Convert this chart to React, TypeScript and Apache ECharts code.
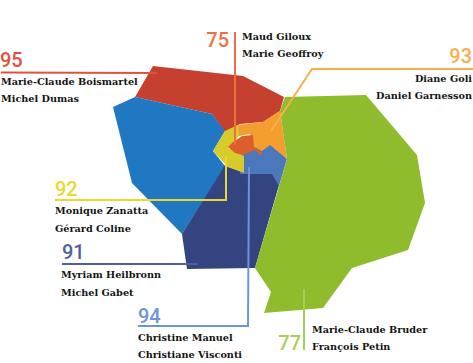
import React, { useEffect, useRef } from "react";
import * as echarts from "echarts";

const W = 473;
const H = 363;

// Region outlines in picture units
const redShape = [[153,66],[243,76],[284,97],[280,111],[263,122],[240,124],[225,132],[212,114],[135,97]];
const blueShape = [[135,97],[212,114],[225,131],[213,151],[225,166],[182,234],[132,183],[113,107]];
const navyShape = [[225,165],[228,167],[244,172],[272,173],[279,185],[255,268],[187,269],[182,234]];
const midBlueShape = [[240,153],[262,144],[270,143],[287,159],[279,186],[272,174],[240,174]];
const yellowShape = [[213,151],[225,131],[238,125],[240,135],[228,148],[244,156],[244,173],[228,167]];
const orangeShape = [[238,125],[263,122],[280,111],[287,159],[270,145],[262,151],[252,146],[250,134],[239,136]];
const darkOrangeShape = [[228,147],[233,142],[242,136],[253,135],[254,147],[262,152],[261,156],[255,150],[243,155],[235,153]];
const greenShape = [[285,97],[366,95],[417,155],[425,203],[408,250],[352,268],[323,308],[264,313],[271,292],[255,268],[287,159],[280,111]];

const shapes = [redShape, blueShape, navyShape, midBlueShape, yellowShape, orangeShape, darkOrangeShape, greenShape];
const shapeColors = ["#c5402f", "#1f78c1", "#344480", "#4b77bd", "#d7cb2b", "#f49e2f", "#dc5f2b", "#8fbc2c"];

// Leader lines
const leaderRed = [[1,72.5],[157,73]];
const leaderDarkOrange = [[235,32],[235,145]];
const leaderOrange = [[473,69],[312,69],[271,131]];
const leaderYellow = [[55,200],[226,200],[226,156]];
const leaderNavy = [[62,264],[198,264]];
const leaderMidBlue = [[138,326],[248,326],[249,167]];
const leaderGreen = [[304,289],[304,350]];

const leaders = [leaderRed, leaderDarkOrange, leaderOrange, leaderYellow, leaderNavy, leaderMidBlue, leaderGreen];
const leaderColors = ["#df5140", "#ec7044", "#f9ae4e", "#e8d830", "#50609f", "#6d94d8", "#a5cf58"];

// Scores
const scores = ["95", "75", "93", "92", "91", "94", "77"];
const scoreAnchors = [[0,67,"left"],[229,47,"right"],[472,63,"right"],[55,196,"left"],[62,259,"left"],[138,323,"left"],[301,350,"right"]];

// Names
const names = [
  "Marie-Claude Boismartel", "Michel Dumas",
  "Maud Giloux", "Marie Geoffroy",
  "Diane Goli", "Daniel Garnesson",
  "Monique Zanatta", "Gérard Coline",
  "Myriam Heilbronn", "Michel Gabet",
  "Christine Manuel", "Christiane Visconti",
  "Marie-Claude Bruder", "François Petin",
];
const nameAnchors = [
  [1,85,"left"],[1,102,"left"],
  [242,40,"left"],[242,57,"left"],
  [472,82,"right"],[472,99,"right"],
  [55,214,"left"],[55,232,"left"],
  [61,278,"left"],[61,296,"left"],
  [138,341,"left"],[138,358,"left"],
  [312,333,"left"],[312,350,"left"],
];

export default function App() {
  const ref = useRef<HTMLDivElement>(null);
  useEffect(() => {
    const chart = echarts.init(ref.current!, undefined, { renderer: "svg", width: W, height: H });
    const textSeries = (texts: string[], anchors: any[], colors: string[] | null, font: string, lift: number) => ({
      type: "custom",
      silent: true,
      z: 5,
      clip: false,
      data: texts.map((t, i) => [anchors[i][0], anchors[i][1]]),
      renderItem: (params: any, api: any) => {
        const i = params.dataIndex;
        const p = api.coord([anchors[i][0], anchors[i][1]]);
        return {
          type: "text",
          style: {
            text: texts[i],
            x: p[0],
            y: p[1] - lift,
            font,
            fill: colors ? colors[i] : "#141414",
            align: anchors[i][2],
            verticalAlign: "middle",
          },
        };
      },
    });
    chart.setOption({
      animation: false,
      backgroundColor: "#ffffff",
      grid: { left: 0, right: 0, top: 0, bottom: 0 },
      xAxis: { type: "value", min: 0, max: W, show: false },
      yAxis: { type: "value", min: 0, max: H, inverse: true, show: false },
      series: [
        {
          type: "custom",
          silent: true,
          z: 1,
          clip: false,
          data: shapes.map((s, i) => [s[0][0], s[0][1], i]),
          renderItem: (params: any, api: any) => {
            const i = params.dataIndex;
            return {
              type: "polygon",
              shape: { points: shapes[i].map((v) => api.coord(v)) },
              style: { fill: shapeColors[i] },
            };
          },
        },
        ...leaders.map((d, i) => ({
          type: "line",
          data: d,
          symbol: "none",
          silent: true,
          z: 3,
          lineStyle: { color: leaderColors[i], width: 2, cap: "butt", join: "miter" },
        })),
        textSeries(scores, scoreAnchors, leaderColors, "500 20px Roboto", 7),
        textSeries(names, nameAnchors, null, "bold 9.7px 'DejaVu Serif'", 3.5),
      ],
    });
    return () => chart.dispose();
  }, []);
  return <div ref={ref} style={{ position: "absolute", left: 0, top: 0, width: W, height: H }} />;
}
